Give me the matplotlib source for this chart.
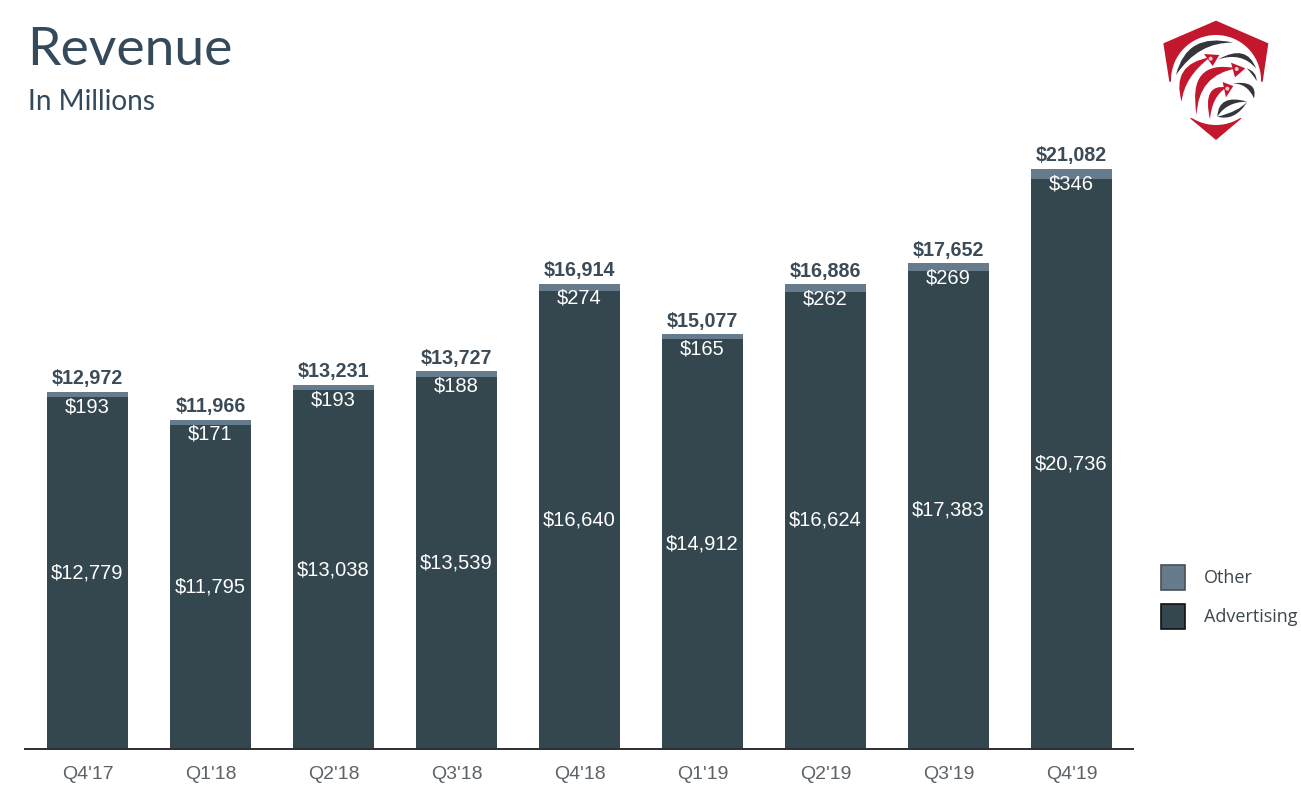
import matplotlib
matplotlib.use('Agg')
import matplotlib.pyplot as plt
import matplotlib.patches as mpatches
from matplotlib.path import Path

quarters = ["Q4'17", "Q1'18", "Q2'18", "Q3'18", "Q4'18", "Q1'19", "Q2'19", "Q3'19", "Q4'19"]
advertising = [12779, 11795, 13038, 13539, 16640, 14912, 16624, 17383, 20736]
other = [193, 171, 193, 188, 274, 165, 262, 269, 346]
totals = [12972, 11966, 13231, 13727, 16914, 15077, 16886, 17652, 21082]

W, H = 1301, 800
DARK = '#34474f'
LIGHT = '#667b8c'
TEXT = '#3b4b57'

fig = plt.figure(figsize=(W / 100, H / 100), dpi=100, facecolor='white')

# axes box in pixels: x 25-1133, y 149-749
ax = fig.add_axes([25 / W, 1 - 749 / H, 1108 / W, 600 / H])
ax.set_xlim(-0.508, 8.5)
ax.set_ylim(0, 21810)

xs = range(len(quarters))
ax.bar(xs, advertising, width=0.655, color=DARK, label='Advertising')
ax.bar(xs, other, width=0.655, bottom=advertising, color=LIGHT, label='Other')

for i in xs:
    top = advertising[i] + other[i]
    ax.text(i, advertising[i] / 2, '${:,}'.format(advertising[i]), color='white', ha='center', va='center',
            fontsize=14.5, family='Liberation Sans')
    ax.annotate('${:,}'.format(other[i]), (i, top), xytext=(0, -10.5), textcoords='offset points',
                color='white', ha='center', va='center', fontsize=14.5, family='Liberation Sans')
    ax.annotate('${:,}'.format(totals[i]), (i, top), xytext=(0, 9.5), textcoords='offset points',
                color=TEXT, ha='center', va='center', fontsize=14.2, fontweight='bold',
                family='Liberation Sans')

ax.spines['top'].set_visible(False)
ax.spines['right'].set_visible(False)
ax.spines['left'].set_visible(False)
ax.spines['bottom'].set_linewidth(1.4)
ax.spines['bottom'].set_color('#2b2f33')
ax.set_yticks([])
ax.set_xticks(list(xs))
ax.set_xticklabels(quarters, fontsize=14, color='#5c6266', family='Liberation Sans')
ax.tick_params(axis='x', length=0, pad=12.5)

# title
fig.text(27 / W, 1 - 65 / H, 'Revenue', fontsize=38.5, color='#34495a', family='Lato')
fig.text(28 / W, 1 - 110 / H, 'In Millions', fontsize=20.2, color='#34495a', family='Lato')

# legend
other_patch = mpatches.Patch(facecolor=LIGHT, edgecolor='#4a4f55', linewidth=1.2, label='Other')
adv_patch = mpatches.Patch(facecolor=DARK, edgecolor='#111111', linewidth=1.2, label='Advertising')
fig.legend(handles=[other_patch, adv_patch], loc='center left', bbox_to_anchor=(1147 / W, 1 - 597 / H),
           frameon=False, prop={'family': 'Open Sans', 'size': 13}, labelcolor='#3b4750',
           handlelength=1.3, handleheight=1.8, handletextpad=1.05, labelspacing=0.75,
           borderpad=0.3)

# logo, coordinates in a 3x pixel grid of the corner
logo = fig.add_axes([1130 / W, 1 - 160 / H, 171 / W, 160 / H], zorder=5)
logo.set_xlim(0, 513)
logo.set_ylim(480, 0)
logo.axis('off')
logo.patch.set_alpha(0)

RED = '#c3172e'
GREY = '#33363b'


def crescent(a, c1, b, c2, color):
    # two quadratic curves between the tips a and b
    verts = [a, c1, b, c2, a]
    codes = [Path.MOVETO, Path.CURVE3, Path.CURVE3, Path.CURVE3, Path.CURVE3]
    logo.add_patch(mpatches.PathPatch(Path(verts, codes), facecolor=color, edgecolor='none'))


def head(pts):
    logo.add_patch(mpatches.Polygon(pts, facecolor=RED, edgecolor='none'))


logo.add_patch(mpatches.Polygon([(100, 130), (258, 62), (415, 130), (398, 245), (258, 250), (118, 245)],
                                facecolor=RED, edgecolor='none'))
logo.add_patch(mpatches.Polygon([(180, 355), (258, 420), (335, 355), (258, 340)], facecolor=RED, edgecolor='none'))
logo.add_patch(mpatches.Circle((258, 240), 135, facecolor='white', edgecolor='none'))

# dark crescents
crescent((138, 225), (170, 95), (310, 128), (205, 125), GREY)
crescent((265, 178), (350, 130), (378, 205), (335, 155), GREY)
crescent((350, 205), (380, 215), (380, 243), (368, 222), GREY)
crescent((308, 250), (385, 240), (372, 295), (352, 250), GREY)
crescent((262, 350), (265, 280), (352, 305), (290, 305), GREY)
crescent((262, 350), (315, 365), (352, 305), (325, 335), GREY)

# red arrows
crescent((155, 305), (122, 192), (240, 172), (162, 232), RED)
head([(222, 162), (268, 165), (248, 198)])
crescent((200, 345), (170, 175), (320, 205), (204, 225), RED)
head([(303, 188), (346, 205), (315, 232)])
crescent((240, 358), (215, 250), (290, 262), (245, 290), RED)
head([(278, 246), (310, 258), (288, 292)])
for cx, cy in [(242, 176), (320, 207), (292, 266)]:
    logo.add_patch(mpatches.Circle((cx, cy), 6, facecolor='#f2c9cf', edgecolor='none'))

plt.savefig('out.png', dpi=100)
